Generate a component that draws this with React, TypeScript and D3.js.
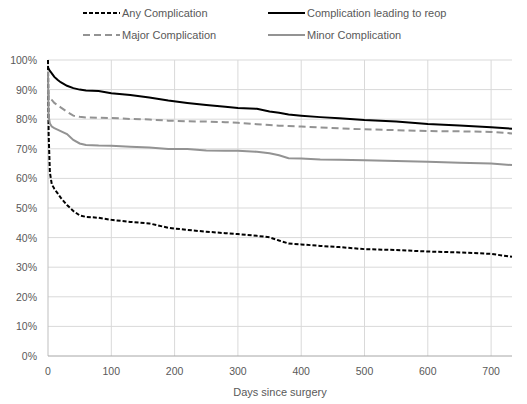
import * as d3 from "d3";

// days since surgery (shared x values)
const days = [0, 1, 3, 6, 10, 15, 20, 30, 40, 50, 60, 80, 100, 130, 160, 190, 220, 250, 280, 300, 330, 350, 365, 380, 400, 430, 460, 500, 550, 600, 650, 700, 733];

const anyComp = [100, 75, 62, 58, 56.5, 55, 53.5, 51, 49, 47.5, 47, 46.7, 46, 45.3, 44.8, 43.3, 42.6, 42, 41.5, 41.2, 40.6, 40.1, 39, 38, 37.7, 37.2, 36.8, 36.1, 35.8, 35.3, 35, 34.5, 33.5];
const reopComp = [97.5, 97, 96.3, 95.5, 94.3, 93.3, 92.5, 91.3, 90.5, 90, 89.7, 89.5, 88.8, 88.2, 87.3, 86.3, 85.5, 84.8, 84.2, 83.8, 83.5, 82.6, 82.2, 81.6, 81.2, 80.7, 80.3, 79.7, 79.2, 78.4, 77.9, 77.3, 76.8];
const majorComp = [90, 88, 87, 86.5, 85.5, 84.8, 84, 82.5, 81.2, 80.8, 80.6, 80.5, 80.4, 80.1, 79.9, 79.5, 79.3, 79.2, 79, 78.8, 78.3, 78, 77.8, 77.7, 77.5, 77.2, 76.9, 76.6, 76.3, 76, 75.9, 75.7, 75.2];
const minorComp = [96, 81, 78.5, 77.5, 77, 76.5, 76, 75, 73, 71.8, 71.3, 71.1, 71, 70.7, 70.4, 69.9, 69.9, 69.4, 69.3, 69.3, 69, 68.5, 67.8, 66.8, 66.7, 66.4, 66.3, 66.1, 65.9, 65.6, 65.3, 65, 64.5];

const xTicks = [0, 100, 200, 300, 400, 500, 600, 700];
const yTicks = [0, 10, 20, 30, 40, 50, 60, 70, 80, 90, 100];

const series = [
  { name: "Any Complication", values: anyComp, color: "#000", dash: "4,2" },
  { name: "Complication leading to reop", values: reopComp, color: "#000", dash: null },
  { name: "Major Complication", values: majorComp, color: "#939393", dash: "7,4" },
  { name: "Minor Complication", values: minorComp, color: "#939393", dash: null },
];

const W = 527, H = 404;
const font = "'Liberation Sans', Arial, sans-serif";

export default function App() {
  const x = d3.scaleLinear().domain([0, 733]).range([48, 512]);
  const y = d3.scaleLinear().domain([0, 100]).range([356, 60]);
  const line = d3.line<number>()
    .x((_, i) => x(days[i]))
    .y((d) => y(d));

  const legendPos = [
    [83, 13], [268, 13], [83, 35], [268, 35],
  ];

  return (
    <svg width={W} height={H} style={{ position: "absolute", left: 0, top: 0 }} fontFamily={font}>
      <rect width={W} height={H} fill="#fff" />
      {/* grid */}
      {yTicks.filter(t => t > 0).map(t => (
        <line key={"gy" + t} x1={x(0)} x2={x(733)} y1={y(t)} y2={y(t)} stroke="#d9d9d9" />
      ))}
      {xTicks.filter(t => t > 0).map(t => (
        <line key={"gx" + t} x1={x(t)} x2={x(t)} y1={y(0)} y2={y(100)} stroke="#d9d9d9" />
      ))}
      <line x1={x(0)} x2={x(0)} y1={y(0)} y2={y(100)} stroke="#bfbfbf" />
      <line x1={x(0)} x2={x(733)} y1={y(0)} y2={y(0)} stroke="#a6a6a6" />

      {/* ticks */}
      {yTicks.map(t => (
        <text key={"ty" + t} x={37} y={y(t) + 4} textAnchor="end" fontSize={10.5} fill="#595959">{t}%</text>
      ))}
      {xTicks.map(t => (
        <text key={"tx" + t} x={x(t)} y={375} textAnchor="middle" fontSize={10.5} fill="#595959">{t}</text>
      ))}
      <text x={280} y={396} textAnchor="middle" fontSize={11} fill="#595959">Days since surgery</text>

      {/* lines */}
      {series.map(s => (
        <path key={s.name} d={line(s.values) ?? ""} fill="none" stroke={s.color} strokeWidth={2}
          strokeDasharray={s.dash ?? undefined} />
      ))}

      {/* legend */}
      {series.map((s, i) => {
        const [lx, ly] = legendPos[i];
        return (
          <g key={"lg" + i}>
            <line x1={lx} x2={lx + 37} y1={ly} y2={ly} stroke={s.color} strokeWidth={2}
              strokeDasharray={s.dash ?? undefined} />
            <text x={lx + 39} y={ly + 4} fontSize={11} fill="#595959">{s.name}</text>
          </g>
        );
      })}
    </svg>
  );
}
